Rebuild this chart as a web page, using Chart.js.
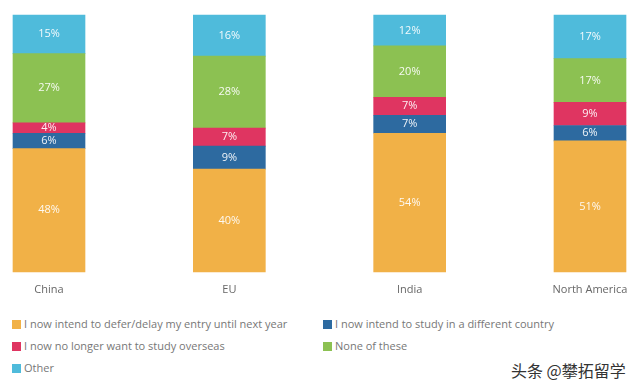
<!DOCTYPE html>
<html>
<head>
<meta charset="utf-8">
<script src="https://cdn.jsdelivr.net/npm/chart.js@4"></script>
<style>
  body { margin: 0; background: #fff; width: 640px; height: 389px; overflow: hidden; position: relative; font-family: "Open Sans", sans-serif; }
  #wrap { position: absolute; left: 0; top: 0; width: 640px; height: 300px; }
  .leg { position: absolute; font-size: 11px; color: #777; line-height: 14px; white-space: nowrap; }
  .leg i { display: inline-block; width: 9px; height: 9px; margin-right: 3px; vertical-align: -1px; }
  #mark { position: absolute; left: 511px; top: 358px; font-family: "Noto Sans CJK SC", sans-serif; font-size: 16px; color: #333; text-shadow: 0 0 2px #fff, 0 0 2px #fff; }
</style>
</head>
<body>
<div id="wrap"><canvas id="chart"></canvas></div>
<div id="legend"></div>
<div id="mark">头条 @攀拓留学</div>
<script>
  const regions = ['China', 'EU', 'India', 'North America'];
  const seriesNames = [
    'I now intend to defer/delay my entry until next year',
    'I now intend to study in a different country',
    'I now no longer want to study overseas',
    'None of these',
    'Other'
  ];
  const defer = [48, 40, 54, 51];
  const otherCountry = [6, 9, 7, 6];
  const noLonger = [4, 7, 7, 9];
  const noneOfThese = [27, 28, 20, 17];
  const other = [15, 16, 12, 17];
  const colors = ['#f1b147', '#2d6aa0', '#df3561', '#8cc152', '#4fbbdb'];

  const values = [defer, otherCountry, noLonger, noneOfThese, other];

  // legend, two columns like the original
  const legendPos = [[12, 317], [323, 317], [12, 339], [323, 339], [12, 361]];
  const legendEl = document.getElementById('legend');
  seriesNames.forEach((name, i) => {
    const d = document.createElement('div');
    d.className = 'leg';
    d.style.left = legendPos[i][0] + 'px';
    d.style.top = legendPos[i][1] + 'px';
    d.innerHTML = '<i style="background:' + colors[i] + '"></i>' + name;
    legendEl.appendChild(d);
  });

  // percentage labels in the middle of each segment
  const segLabels = {
    id: 'segLabels',
    afterDatasetsDraw(chart) {
      const ctx = chart.ctx;
      ctx.save();
      ctx.font = '11px "Open Sans"';
      ctx.fillStyle = 'rgba(255,255,255,0.92)';
      ctx.textAlign = 'center';
      ctx.textBaseline = 'middle';
      chart.data.datasets.forEach((ds, i) => {
        chart.getDatasetMeta(i).data.forEach((bar, j) => {
          ctx.fillText(ds.data[j] + '%', bar.x, (bar.y + bar.base) / 2);
        });
      });
      ctx.restore();
    }
  };

  new Chart(document.getElementById('chart'), {
    type: 'bar',
    data: {
      labels: regions,
      datasets: values.map((v, i) => ({
        label: seriesNames[i],
        data: v,
        backgroundColor: colors[i],
        borderWidth: 0,
        barThickness: 72,
        clip: false
      }))
    },
    options: {
      responsive: true,
      maintainAspectRatio: false,
      animation: false,
      layout: { padding: { left: 49, right: 50, top: 15 } },
      scales: {
        x: {
          stacked: true,
          offset: false,
          grid: { display: false, drawTicks: false },
          border: { display: false },
          ticks: { color: '#666', font: { family: 'Open Sans', size: 11 }, padding: 11 },
          afterFit: (s) => { s.height = 28; }
        },
        y: {
          stacked: true,
          display: false,
          min: 0,
          max: 100
        }
      },
      plugins: {
        legend: { display: false },
        tooltip: { enabled: false }
      }
    },
    plugins: [segLabels]
  });
</script>
</body>
</html>
